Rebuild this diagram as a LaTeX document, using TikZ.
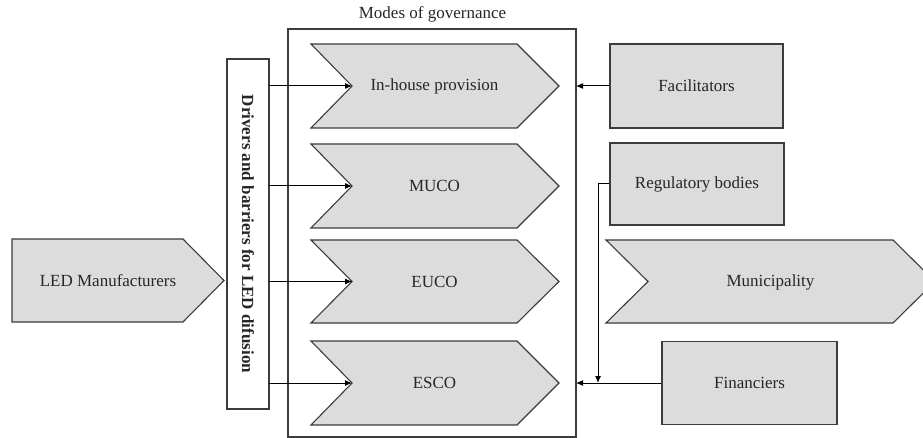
\documentclass[tikz,border=0pt]{standalone}
\usepackage{fontspec}
\setmainfont{Liberation Serif}
\usetikzlibrary{arrows.meta}
\definecolor{boxfill}{HTML}{DCDCDC}
\definecolor{boxline}{HTML}{3C3C3C}
\tikzset{
  shapeline/.style={draw=boxline, fill=boxfill, line width=1.1pt, line join=miter},
  frameline/.style={draw=boxline, line width=1.1pt},
  lbl/.style={font=\fontsize{17}{20}\selectfont, text=black!85, inner sep=0pt},
  conn/.style={draw=black, line width=1pt, -{Latex[length=7pt,width=6pt]}},
  plain/.style={draw=black, line width=1pt},
}
\begin{document}
\begin{tikzpicture}[x=1pt, y={(0,-1pt)}]
\useasboundingbox (0,0) rectangle (923,438);
\clip (0,0) rectangle (923,438);
% title
\node[lbl] (title) at (432.5,14) {Modes of governance};
% outer frame
\draw[frameline] (288,29) rectangle (576,437);
\coordinate (frR1) at (576,86);
\coordinate (frR4) at (576,383);
% drivers box
\draw[frameline, fill=white] (227,59) rectangle (269,409);
\node[lbl, font=\fontsize{17}{20}\selectfont\bfseries, rotate=-90] (drivers) at (248,234) {Drivers and barriers for LED difusion};
\coordinate (d1) at (269,86);
\coordinate (d2) at (269,186);
\coordinate (d3) at (269,281.5);
\coordinate (d4) at (269,383);
% chevrons inside frame
\draw[shapeline] (311,44) -- (517,44) -- (559,86) -- (517,128) -- (311,128) -- (352,86) -- cycle;
\coordinate (n1) at (352,86);
\node[lbl] (inhouse) at (434.5,86) {In-house provision};
\draw[shapeline] (311,144) -- (517,144) -- (559,186) -- (517,228) -- (311,228) -- (352,186) -- cycle;
\coordinate (n2) at (352,186);
\node[lbl] (muco) at (434.5,186) {MUCO};
\draw[shapeline] (311,240) -- (517,240) -- (559,281.5) -- (517,323) -- (311,323) -- (352,281.5) -- cycle;
\coordinate (n3) at (352,281.5);
\node[lbl] (euco) at (434.5,281.5) {EUCO};
\draw[shapeline] (311,341) -- (517,341) -- (559,383) -- (517,425) -- (311,425) -- (352,383) -- cycle;
\coordinate (n4) at (352,383);
\node[lbl] (esco) at (434.5,383) {ESCO};
% LED manufacturers
\draw[shapeline] (12,239) -- (183,239) -- (224,280.5) -- (183,322) -- (12,322) -- cycle;
\node[lbl] (led) at (108,281) {LED Manufacturers};
% right side
\node[shapeline, minimum width=173pt, minimum height=84pt, inner sep=0pt] (fac) at (696.5,86) {};
\node[lbl] (factext) at (fac.center) {Facilitators};
\node[shapeline, minimum width=174pt, minimum height=82pt, inner sep=0pt] (reg) at (697,184) {};
\node[lbl] (regtext) at (reg.center) {Regulatory bodies};
\draw[shapeline] (606,240) -- (893,240) -- (935,281.5) -- (893,323) -- (606,323) -- (648,281.5) -- cycle;
\node[lbl] (muni) at (770.5,282) {Municipality};
\node[shapeline, minimum width=175pt, minimum height=83pt, inner sep=0pt] (fin) at (749.5,383) {};
\node[lbl] (fintext) at (fin.center) {Financiers};
% connectors
\draw[conn] (d1) -- (n1);
\draw[conn] (d2) -- (n2);
\draw[conn] (d3) -- (n3);
\draw[conn] (d4) -- (n4);
\draw[conn] (fac.west) -- (frR1);
\draw[conn] (fin.west) -- (frR4);
\coordinate (regcorner) at (598,184);
\coordinate (regdown) at (598,383);
\draw[conn] (reg.west) -- (regcorner) -- (regdown);
\end{tikzpicture}
\end{document}
